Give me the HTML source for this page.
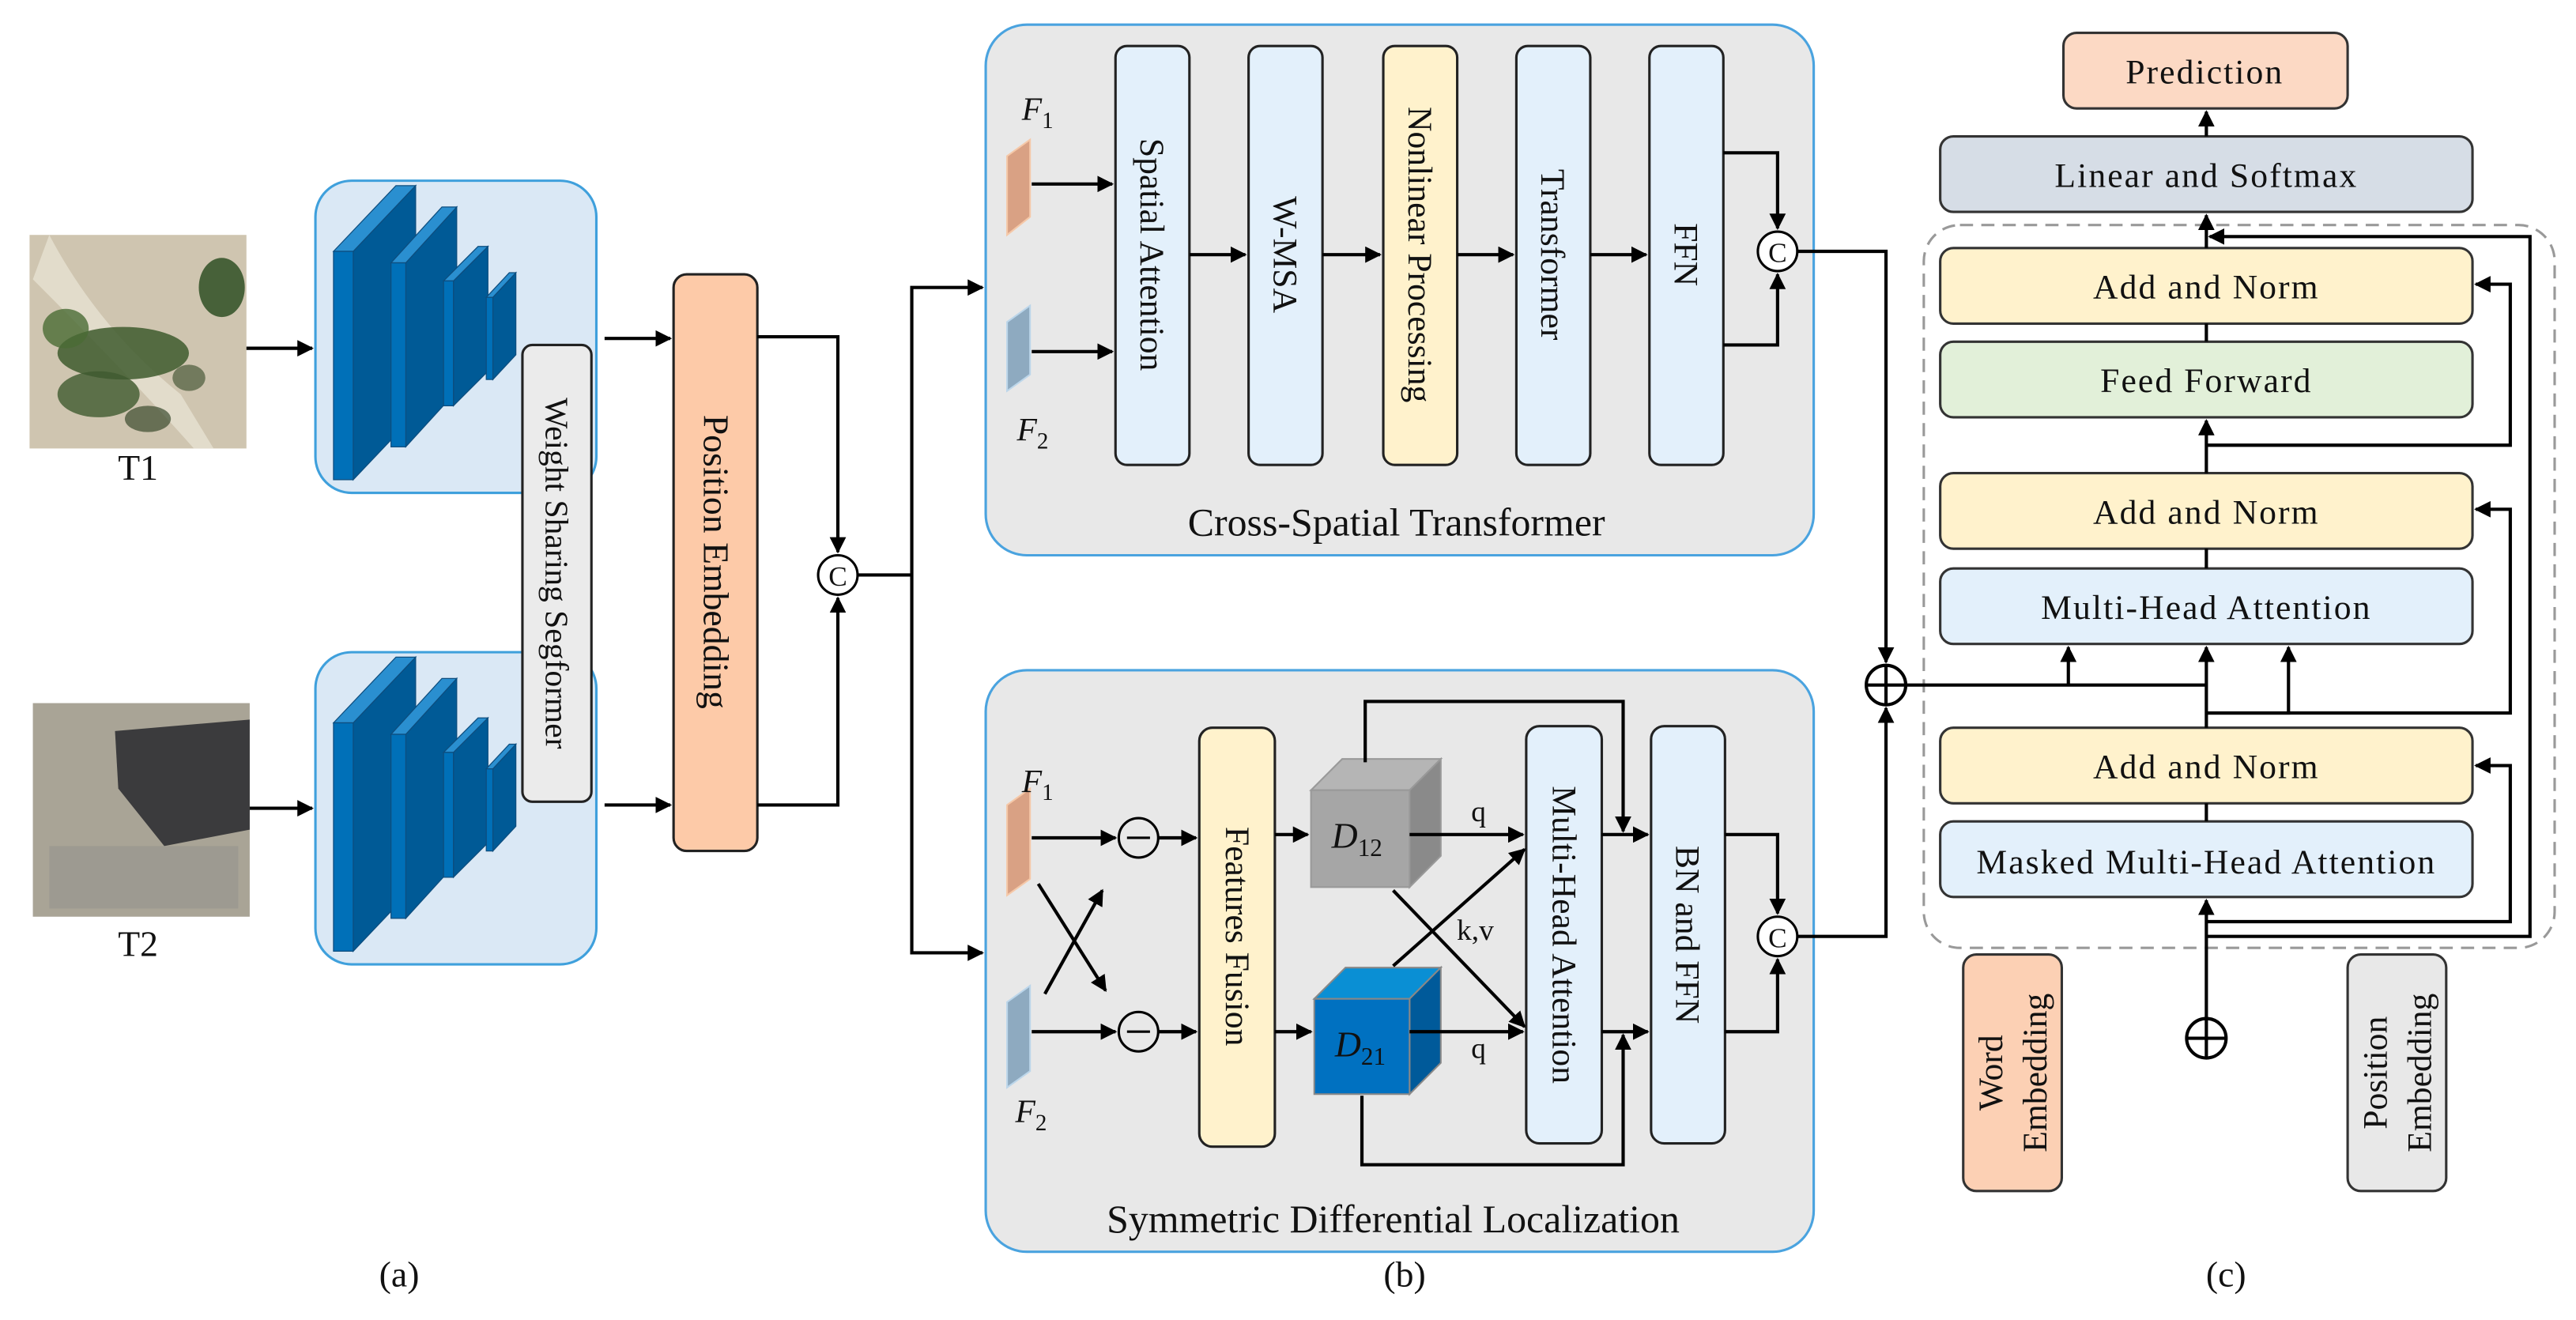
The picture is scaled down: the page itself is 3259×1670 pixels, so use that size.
<!DOCTYPE html>
<html><head><meta charset="utf-8"><style>
html,body{margin:0;padding:0;background:#fff;}
svg{display:block;}
svg text{font-family:"Liberation Serif","Times New Roman",serif;fill:#111;}
</style></head><body>
<svg width="3259" height="1670" viewBox="0 0 1568 803.5" preserveAspectRatio="none" xmlns="http://www.w3.org/2000/svg" font-family="Liberation Serif, serif">
<defs>
<marker id="a" viewBox="0 0 10 10" refX="9" refY="5" markerWidth="5" markerHeight="5" orient="auto-start-reverse"><path d="M0,0 L10,5 L0,10 z" fill="#000"/></marker>
</defs>
<rect width="1568" height="803.5" fill="#fff"/>

<!-- Panel (a) images -->
<rect x="18" y="143" width="132" height="130" fill="#cfc5b0"/>
<path d="M30,143 Q60,200 110,240 L130,273 L118,273 Q80,230 20,170 Z" fill="#e2dccb"/>
<ellipse cx="75" cy="215" rx="40" ry="16" fill="#3e5a2e" opacity="0.85"/>
<ellipse cx="135" cy="175" rx="14" ry="18" fill="#2f4f25" opacity="0.85"/>
<ellipse cx="40" cy="200" rx="14" ry="12" fill="#4a6b35" opacity="0.8"/>
<ellipse cx="60" cy="240" rx="25" ry="14" fill="#3f5a30" opacity="0.8"/>
<ellipse cx="115" cy="230" rx="10" ry="8" fill="#4a5a3a" opacity="0.7"/>
<ellipse cx="90" cy="255" rx="14" ry="8" fill="#3a4a2e" opacity="0.7"/>
<text x="84" y="292" font-size="22" text-anchor="middle">T1</text>
<rect x="20" y="428" width="132" height="130" fill="#a9a496"/>
<polygon points="70,445 152,438 152,505 100,515 72,480" fill="#3b3b3d"/>
<rect x="30" y="515" width="115" height="38" fill="#9d9a91"/>
<text x="84" y="582" font-size="22" text-anchor="middle">T2</text>

<!-- blue boxes -->
<rect x="192" y="110" width="171" height="190" rx="22" fill="#dae8f5" stroke="#3fa0dc" stroke-width="1.5"/>
<rect x="192" y="397" width="171" height="190" rx="22" fill="#dae8f5" stroke="#3fa0dc" stroke-width="1.5"/>
<g stroke="#0d4d7e" stroke-width="0.6">
<polygon points="215,153 253,113 253,252 215,292" fill="#005a96"/><polygon points="203,153 241,113 253,113 215,153" fill="#2a8fd0"/><rect x="203" y="153" width="12" height="139" fill="#0070b8"/>
<polygon points="247,160 278,126 278,238 247,272" fill="#005a96"/><polygon points="238,160 269,126 278,126 247,160" fill="#2a8fd0"/><rect x="238" y="160" width="9" height="112" fill="#0070b8"/>
<polygon points="276,171 297,150 297,226 276,247" fill="#005a96"/><polygon points="270,171 291,150 297,150 276,171" fill="#2a8fd0"/><rect x="270" y="171" width="6" height="76" fill="#0070b8"/>
<polygon points="300,181 314,166 314,216 300,231" fill="#005a96"/><polygon points="296,181 310,166 314,166 300,181" fill="#2a8fd0"/><rect x="296" y="181" width="4" height="50" fill="#0070b8"/>
<polygon points="215,440 253,400 253,539 215,579" fill="#005a96"/><polygon points="203,440 241,400 253,400 215,440" fill="#2a8fd0"/><rect x="203" y="440" width="12" height="139" fill="#0070b8"/>
<polygon points="247,447 278,413 278,525 247,559" fill="#005a96"/><polygon points="238,447 269,413 278,413 247,447" fill="#2a8fd0"/><rect x="238" y="447" width="9" height="112" fill="#0070b8"/>
<polygon points="276,458 297,437 297,513 276,534" fill="#005a96"/><polygon points="270,458 291,437 297,437 276,458" fill="#2a8fd0"/><rect x="270" y="458" width="6" height="76" fill="#0070b8"/>
<polygon points="300,468 314,453 314,503 300,518" fill="#005a96"/><polygon points="296,468 310,453 314,453 300,468" fill="#2a8fd0"/><rect x="296" y="468" width="4" height="50" fill="#0070b8"/>
</g>
<rect x="318" y="210" width="42" height="278" rx="6" fill="#ebebeb" stroke="#222" stroke-width="1.5"/>
<text transform="rotate(90 339 349)" x="339" y="349" font-size="20" text-anchor="middle" dominant-baseline="central">Weight Sharing Segformer</text>
<rect x="410" y="167" width="51" height="351" rx="8" fill="#fdcaa8" stroke="#222" stroke-width="1.5"/>
<text transform="rotate(90 436 342)" x="436" y="342" font-size="22" text-anchor="middle" dominant-baseline="central">Position Embedding</text>

<g stroke="#000" stroke-width="2" fill="none">
<line x1="150" y1="212" x2="190" y2="212" marker-end="url(#a)"/>
<line x1="152" y1="492" x2="190" y2="492" marker-end="url(#a)"/>
<line x1="368" y1="206" x2="408" y2="206" marker-end="url(#a)"/>
<line x1="368" y1="490" x2="408" y2="490" marker-end="url(#a)"/>
<polyline points="461,205 510,205 510,336" marker-end="url(#a)"/>
<polyline points="461,490 510,490 510,364" marker-end="url(#a)"/>
<line x1="522" y1="350" x2="555" y2="350"/>
<polyline points="598,175 555,175 555,580 598,580" marker-start="url(#a)" marker-end="url(#a)"/>
</g>
<circle cx="510" cy="350" r="12" fill="#fff" stroke="#000" stroke-width="1.5"/>
<text x="510" y="351" font-size="17" text-anchor="middle" dominant-baseline="central">C</text>

<!-- Panel b top -->
<rect x="600" y="15" width="504" height="323" rx="25" fill="#e8e8e8" stroke="#4aa3df" stroke-width="1.5"/>
<polygon points="613,95 627,85 627,132 613,143" fill="#d9a184" stroke="#f5c8a8"/>
<polygon points="613,196 627,186 627,228 613,238" fill="#8eaac0" stroke="#bcd6ea"/>
<text x="622" y="73" font-size="20" font-style="italic">F<tspan font-size="14" font-style="normal" dy="5">1</tspan></text>
<text x="619" y="268" font-size="20" font-style="italic">F<tspan font-size="14" font-style="normal" dy="5">2</tspan></text>
<g stroke="#222" stroke-width="1.5">
<rect x="679" y="28" width="45" height="255" rx="7" fill="#e3f0fb"/>
<rect x="760" y="28" width="45" height="255" rx="7" fill="#e3f0fb"/>
<rect x="842" y="28" width="45" height="255" rx="7" fill="#fff2cc"/>
<rect x="923" y="28" width="45" height="255" rx="7" fill="#e3f0fb"/>
<rect x="1004" y="28" width="45" height="255" rx="7" fill="#e3f0fb"/>
</g>
<g font-size="21" text-anchor="middle" dominant-baseline="central">
<text transform="rotate(90 701 155)" x="701" y="155">Spatial Attention</text>
<text transform="rotate(90 782 155)" x="782" y="155">W-MSA</text>
<text transform="rotate(90 864 155)" x="864" y="155">Nonlinear Processing</text>
<text transform="rotate(90 945 155)" x="945" y="155">Transformer</text>
<text transform="rotate(90 1026 155)" x="1026" y="155">FFN</text>
</g>
<g stroke="#000" stroke-width="2" fill="none">
<line x1="628" y1="112" x2="677" y2="112" marker-end="url(#a)"/>
<line x1="628" y1="214" x2="677" y2="214" marker-end="url(#a)"/>
<line x1="724" y1="155" x2="758" y2="155" marker-end="url(#a)"/>
<line x1="805" y1="155" x2="840" y2="155" marker-end="url(#a)"/>
<line x1="887" y1="155" x2="921" y2="155" marker-end="url(#a)"/>
<line x1="968" y1="155" x2="1002" y2="155" marker-end="url(#a)"/>
<polyline points="1049,93 1082,93 1082,139" marker-end="url(#a)"/>
<polyline points="1049,210 1082,210 1082,167" marker-end="url(#a)"/>
<polyline points="1094,153 1148,153 1148,403" marker-end="url(#a)"/>
</g>
<circle cx="1082" cy="153" r="12" fill="#fff" stroke="#000" stroke-width="1.5"/>
<text x="1082" y="154" font-size="17" text-anchor="middle" dominant-baseline="central">C</text>
<text x="850" y="326" font-size="24" text-anchor="middle">Cross-Spatial Transformer</text>

<!-- Panel b bottom -->
<rect x="600" y="408" width="504" height="354" rx="25" fill="#e8e8e8" stroke="#4aa3df" stroke-width="1.5"/>
<polygon points="613,490 627,480 627,535 613,545" fill="#d9a184" stroke="#f5c8a8"/>
<polygon points="613,610 627,600 627,652 613,662" fill="#8eaac0" stroke="#bcd6ea"/>
<text x="622" y="482" font-size="20" font-style="italic">F<tspan font-size="14" font-style="normal" dy="5">1</tspan></text>
<text x="618" y="683" font-size="20" font-style="italic">F<tspan font-size="14" font-style="normal" dy="5">2</tspan></text>
<rect x="730" y="443" width="46" height="255" rx="8" fill="#fff2cc" stroke="#222" stroke-width="1.5"/>
<text transform="rotate(90 753 570)" x="753" y="570" font-size="21" text-anchor="middle" dominant-baseline="central">Features Fusion</text>
<polygon points="798,481 817,462 877,462 858,481" fill="#b5b5b5" stroke="#999"/>
<polygon points="858,481 877,462 877,521 858,540" fill="#8a8a8a" stroke="#999"/>
<rect x="798" y="481" width="60" height="59" fill="#a6a6a6" stroke="#999"/>
<text x="826" y="516" font-size="22" text-anchor="middle" font-style="italic">D<tspan font-size="15" font-style="normal" dy="5">12</tspan></text>
<polygon points="800,608 819,589 877,589 858,608" fill="#0a8fd4" stroke="#888"/>
<polygon points="858,608 877,589 877,647 858,666" fill="#005a9a" stroke="#888"/>
<rect x="800" y="608" width="58" height="58" fill="#0071c1" stroke="#888"/>
<text x="828" y="643" font-size="22" text-anchor="middle" font-style="italic">D<tspan font-size="15" font-style="normal" dy="5">21</tspan></text>
<rect x="929" y="442" width="46" height="254" rx="8" fill="#e3f0fb" stroke="#222" stroke-width="1.5"/>
<text transform="rotate(90 952 569)" x="952" y="569" font-size="21" text-anchor="middle" dominant-baseline="central">Multi-Head Attention</text>
<rect x="1005" y="442" width="45" height="254" rx="8" fill="#e3f0fb" stroke="#222" stroke-width="1.5"/>
<text transform="rotate(90 1027 569)" x="1027" y="569" font-size="21" text-anchor="middle" dominant-baseline="central">BN and FFN</text>
<g stroke="#000" stroke-width="2" fill="none">
<line x1="628" y1="510" x2="679" y2="510" marker-end="url(#a)"/>
<line x1="628" y1="628" x2="679" y2="628" marker-end="url(#a)"/>
<line x1="632" y1="538" x2="673" y2="603" marker-end="url(#a)"/>
<line x1="636" y1="605" x2="671" y2="542" marker-end="url(#a)"/>
<line x1="705" y1="510" x2="728" y2="510" marker-end="url(#a)"/>
<line x1="705" y1="628" x2="728" y2="628" marker-end="url(#a)"/>
<line x1="776" y1="508" x2="796" y2="508" marker-end="url(#a)"/>
<line x1="776" y1="628" x2="798" y2="628" marker-end="url(#a)"/>
<line x1="858" y1="508" x2="927" y2="508" marker-end="url(#a)"/>
<line x1="858" y1="628" x2="927" y2="628" marker-end="url(#a)"/>
<line x1="848" y1="542" x2="928" y2="625" marker-end="url(#a)"/>
<line x1="848" y1="588" x2="928" y2="517" marker-end="url(#a)"/>
<polyline points="831,464 831,427 988,427 988,506" marker-end="url(#a)"/>
<polyline points="829,667 829,709 988,709 988,630" marker-end="url(#a)"/>
<line x1="975" y1="508" x2="1003" y2="508" marker-end="url(#a)"/>
<line x1="975" y1="628" x2="1003" y2="628" marker-end="url(#a)"/>
<polyline points="1050,508 1082,508 1082,556" marker-end="url(#a)"/>
<polyline points="1050,628 1082,628 1082,584" marker-end="url(#a)"/>
<polyline points="1094,570 1148,570 1148,431" marker-end="url(#a)"/>
</g>
<circle cx="693" cy="510" r="12" fill="none" stroke="#000" stroke-width="1.5"/><line x1="686" y1="510" x2="700" y2="510" stroke="#000" stroke-width="1.5"/>
<circle cx="693" cy="628" r="12" fill="none" stroke="#000" stroke-width="1.5"/><line x1="686" y1="628" x2="700" y2="628" stroke="#000" stroke-width="1.5"/>
<text x="900" y="500" font-size="18" text-anchor="middle">q</text>
<text x="900" y="644" font-size="18" text-anchor="middle">q</text>
<text x="898" y="572" font-size="18" text-anchor="middle">k,v</text>
<circle cx="1082" cy="570" r="12" fill="#fff" stroke="#000" stroke-width="1.5"/>
<text x="1082" y="571" font-size="17" text-anchor="middle" dominant-baseline="central">C</text>
<text x="848" y="750" font-size="24" text-anchor="middle">Symmetric Differential Localization</text>

<!-- Panel c -->
<rect x="1171" y="137" width="384" height="440" rx="22" fill="none" stroke="#999" stroke-width="1.5" stroke-dasharray="8,5"/>
<g stroke="#333" stroke-width="1.5">
<rect x="1256" y="20" width="173" height="46" rx="8" fill="#fcd9c4"/>
<rect x="1181" y="83" width="324" height="46" rx="8" fill="#d6dde6"/>
<rect x="1181" y="151" width="324" height="46" rx="8" fill="#fff2cc"/>
<rect x="1181" y="208" width="324" height="46" rx="8" fill="#e2f0d9"/>
<rect x="1181" y="288" width="324" height="46" rx="8" fill="#fff2cc"/>
<rect x="1181" y="346" width="324" height="46" rx="8" fill="#e3f0fb"/>
<rect x="1181" y="443" width="324" height="46" rx="8" fill="#fff2cc"/>
<rect x="1181" y="500" width="324" height="46" rx="8" fill="#e3f0fb"/>
<rect x="1195" y="581" width="60" height="144" rx="8" fill="#fcd0b4"/>
<rect x="1429" y="581" width="60" height="144" rx="8" fill="#e8e8e8"/>
</g>
<g font-size="21" text-anchor="middle" dominant-baseline="central">
<text x="1342" y="44" letter-spacing="1">Prediction</text>
<text x="1343" y="107" letter-spacing="1">Linear and Softmax</text>
<text x="1343" y="175" letter-spacing="1">Add and Norm</text>
<text x="1343" y="232" letter-spacing="1">Feed Forward</text>
<text x="1343" y="312" letter-spacing="1">Add and Norm</text>
<text x="1343" y="370" letter-spacing="1">Multi-Head Attention</text>
<text x="1343" y="467" letter-spacing="1">Add and Norm</text>
<text x="1343" y="525" letter-spacing="1">Masked Multi-Head Attention</text>
<text transform="rotate(-90 1212 653)" x="1212" y="653">Word</text>
<text transform="rotate(-90 1239 653)" x="1239" y="653">Embedding</text>
<text transform="rotate(-90 1446 653)" x="1446" y="653">Position</text>
<text transform="rotate(-90 1473 653)" x="1473" y="653">Embedding</text>
</g>
<g stroke="#000" stroke-width="2" fill="none">
<line x1="1343" y1="83" x2="1343" y2="68" marker-end="url(#a)"/>
<line x1="1343" y1="151" x2="1343" y2="131" marker-end="url(#a)"/>
<line x1="1343" y1="197" x2="1343" y2="208"/>
<line x1="1343" y1="288" x2="1343" y2="256" marker-end="url(#a)"/>
<line x1="1343" y1="334" x2="1343" y2="346"/>
<line x1="1343" y1="443" x2="1343" y2="394" marker-end="url(#a)"/>
<line x1="1343" y1="489" x2="1343" y2="500"/>
<line x1="1343" y1="620" x2="1343" y2="548" marker-end="url(#a)"/>
<line x1="1160" y1="417" x2="1343" y2="417"/>
<line x1="1259" y1="417" x2="1259" y2="394" marker-end="url(#a)"/>
<polyline points="1343,434 1393,434 1393,394" marker-end="url(#a)"/>
<polyline points="1343,271 1528,271 1528,173 1507,173" marker-end="url(#a)"/>
<polyline points="1343,434 1528,434 1528,310 1507,310" marker-end="url(#a)"/>
<polyline points="1343,561 1528,561 1528,466 1507,466" marker-end="url(#a)"/>
<polyline points="1343,570 1540,570 1540,144 1345,144" marker-end="url(#a)"/>
</g>
<circle cx="1148" cy="417" r="12" fill="#fff" stroke="#000" stroke-width="2"/>
<line x1="1136" y1="417" x2="1160" y2="417" stroke="#000" stroke-width="2"/><line x1="1148" y1="405" x2="1148" y2="429" stroke="#000" stroke-width="2"/>
<circle cx="1343" cy="632" r="12" fill="#fff" stroke="#000" stroke-width="2"/>
<line x1="1331" y1="632" x2="1355" y2="632" stroke="#000" stroke-width="2"/><line x1="1343" y1="620" x2="1343" y2="644" stroke="#000" stroke-width="2"/>

<text x="243" y="783" font-size="22" text-anchor="middle">(a)</text>
<text x="855" y="783" font-size="22" text-anchor="middle">(b)</text>
<text x="1355" y="783" font-size="22" text-anchor="middle">(c)</text>
</svg>
</body></html>
